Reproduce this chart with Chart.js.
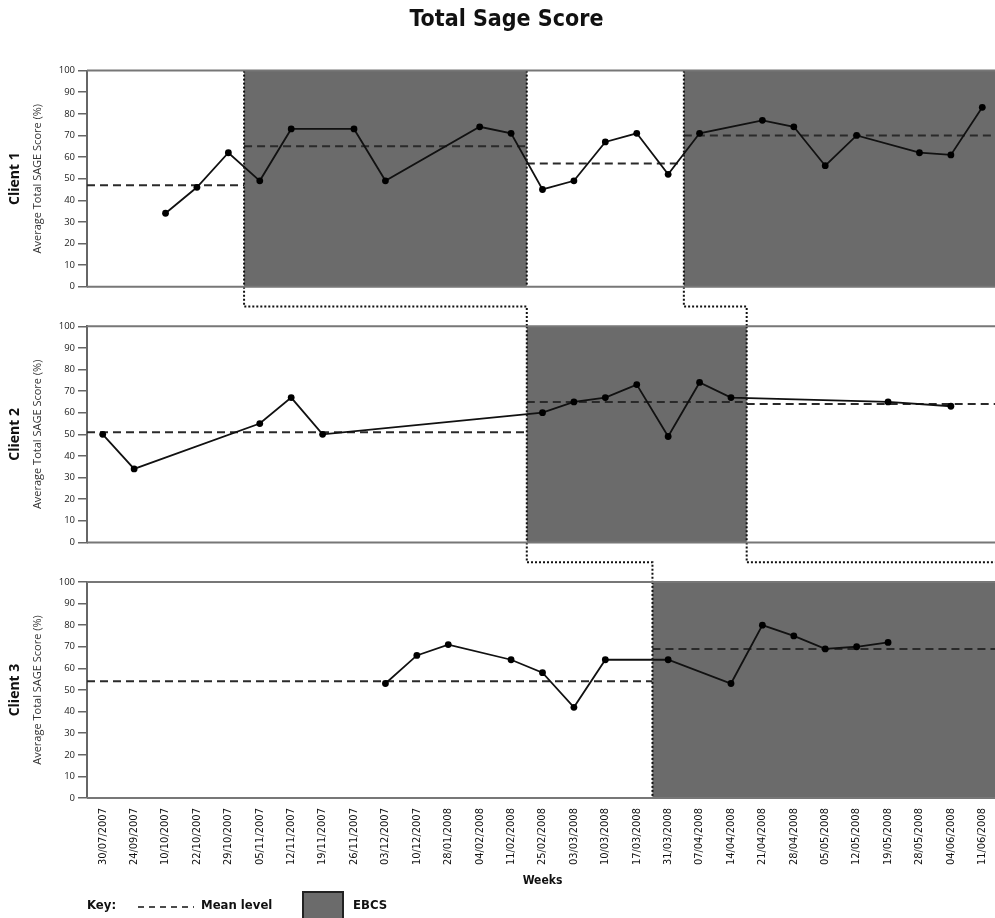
<!DOCTYPE html>
<html>
<head>
<meta charset="utf-8">
<title>Total Sage Score</title>
<script src="https://cdn.jsdelivr.net/npm/chart.js@4/dist/chart.umd.min.js"></script>
<style>
  html, body { margin: 0; padding: 0; background: #fff; overflow: hidden; }
  canvas { display: block; }
</style>
</head>
<body>
<canvas id="chart" width="1002" height="918"></canvas>
<script>
// weeks on the shared x axis
const weeks = [
    '30/07/2007', '24/09/2007', '10/10/2007', '22/10/2007', '29/10/2007',
    '05/11/2007', '12/11/2007', '19/11/2007', '26/11/2007', '03/12/2007',
    '10/12/2007', '28/01/2008', '04/02/2008', '11/02/2008', '25/02/2008',
    '03/03/2008', '10/03/2008', '17/03/2008', '31/03/2008', '07/04/2008',
    '14/04/2008', '21/04/2008', '28/04/2008', '05/05/2008', '12/05/2008',
    '19/05/2008', '28/05/2008', '04/06/2008', '11/06/2008'
];

// average total SAGE score (%), null = no session that week
const client1Scores = [null, null, 34, 46, 62, 49, 73, null, 73, 49, null, null, 74, 71, 45,
    49, 67, 71, 52, 71, null, 77, 74, 56, 70, null, 62, 61, 83];
const client2Scores = [50, 34, null, null, null, 55, 67, 50, null, null, null, null, null, null, 60,
    65, 67, 73, 49, 74, 67, null, null, null, null, 65, null, 63, null];
const client3Scores = [null, null, null, null, null, null, null, null, null, 53, 66, 71, null, 64, 58,
    42, 64, null, 64, null, 53, 80, 75, 69, 70, 72, null, null, null];

// phase changes (between weeks), mean level of each phase, and whether the phase is EBCS
const client1Breaks = [4.5, 13.5, 18.5];
const client1Means = [47, 65, 57, 70];
const client1Ebcs = [false, true, false, true];

const client2Breaks = [13.5, 20.5];
const client2Means = [51, 65, 64];
const client2Ebcs = [false, true, false];

const client3Breaks = [17.5];
const client3Means = [54, 69];
const client3Ebcs = [false, true];

// dotted staircase lines linking the phase changes across clients
const stepsFirst = [4.5, 13.5, 17.5];
const stepsSecond = [18.5, 20.5, 29.5];

const scoreMin = 0;
const scoreMax = 100;
const scoreStep = 10;

const headFont = '"DejaVu Sans Condensed", "DejaVu Sans", sans-serif';
const axisFont = '"Open Sans", sans-serif';
const shade = '#6b6b6b';

const panels = [
    { axis: 'y1', name: 'Client 1', scores: client1Scores, breaks: client1Breaks, means: client1Means, ebcs: client1Ebcs },
    { axis: 'y2', name: 'Client 2', scores: client2Scores, breaks: client2Breaks, means: client2Means, ebcs: client2Ebcs },
    { axis: 'y3', name: 'Client 3', scores: client3Scores, breaks: client3Breaks, means: client3Means, ebcs: client3Ebcs }
];

function scoreAxis() {
    return {
        type: 'linear',
        position: 'left',
        stack: 'clients',
        stackWeight: 216,
        min: scoreMin,
        max: scoreMax,
        ticks: { stepSize: scoreStep, autoSkip: false, font: { family: axisFont, size: 9.5 }, color: '#222', padding: 3 },
        grid: { display: true, drawOnChartArea: false, drawTicks: true, tickLength: 9, color: '#666', lineWidth: 1.5 },
        border: { display: true, color: '#666', width: 2 },
        title: {
            display: true,
            text: 'Average Total SAGE Score (%)',
            font: { family: axisFont, size: 11 },
            color: '#333',
            padding: { top: 20, bottom: 0 }
        },
        afterFit(scale) { scale.width = 76; }
    };
}

function gapAxis() {
    return { type: 'linear', position: 'left', stack: 'clients', stackWeight: 39.5, display: false };
}

const phasePlugin = {
    id: 'phases',
    beforeDatasetsDraw(chart) {
        const { ctx, scales } = chart;
        const x = scales.x;
        ctx.save();
        panels.forEach(p => {
            const y = scales[p.axis];
            const top = y.getPixelForValue(scoreMax);
            const bottom = y.getPixelForValue(scoreMin);
            const edges = [-0.5, ...p.breaks, weeks.length - 0.5];

            p.ebcs.forEach((on, k) => {
                if (!on) return;
                const x0 = x.getPixelForValue(edges[k]);
                const x1 = x.getPixelForValue(edges[k + 1]);
                ctx.fillStyle = shade;
                ctx.fillRect(x0, top, x1 - x0, bottom - top);
            });

            ctx.setLineDash([8, 5]);
            ctx.lineWidth = 2;
            ctx.strokeStyle = '#2a2a2a';
            p.means.forEach((m, k) => {
                const ym = y.getPixelForValue(m);
                ctx.beginPath();
                ctx.moveTo(x.getPixelForValue(edges[k]), ym);
                ctx.lineTo(x.getPixelForValue(edges[k + 1]), ym);
                ctx.stroke();
            });

            ctx.setLineDash([2, 2]);
            ctx.strokeStyle = '#111';
            p.breaks.forEach(b => {
                const xb = x.getPixelForValue(b);
                ctx.beginPath();
                ctx.moveTo(xb, top);
                ctx.lineTo(xb, bottom);
                ctx.stroke();
            });
        });

        ctx.setLineDash([2, 2]);
        ctx.lineWidth = 2;
        ctx.strokeStyle = '#111';
        [stepsFirst, stepsSecond].forEach(steps => {
            for (let i = 0; i < panels.length - 1; i++) {
                const ya = scales[panels[i].axis].getPixelForValue(scoreMin);
                const yb = scales[panels[i + 1].axis].getPixelForValue(scoreMax);
                const yc = (ya + yb) / 2;
                const xa = x.getPixelForValue(steps[i]);
                const xb = x.getPixelForValue(steps[i + 1]);
                ctx.beginPath();
                ctx.moveTo(xa, ya);
                ctx.lineTo(xa, yc);
                ctx.lineTo(xb, yc);
                ctx.lineTo(xb, yb);
                ctx.stroke();
            }
        });
        ctx.restore();
    },
    afterDatasetsDraw(chart) {
        const { ctx, chartArea, scales } = chart;
        ctx.save();
        ctx.strokeStyle = '#777';
        ctx.lineWidth = 2;
        panels.forEach(p => {
            const y = scales[p.axis];
            [scoreMax, scoreMin].forEach(v => {
                const yy = y.getPixelForValue(v);
                ctx.beginPath();
                ctx.moveTo(chartArea.left, yy);
                ctx.lineTo(chartArea.right, yy);
                ctx.stroke();
            });
        });
        ctx.restore();
    },
    afterDraw(chart) {
        const { ctx, chartArea, scales } = chart;
        ctx.save();
        ctx.fillStyle = '#111';
        ctx.textAlign = 'center';
        ctx.textBaseline = 'middle';
        ctx.font = 'bold 14px ' + axisFont;
        panels.forEach(p => {
            const y = scales[p.axis];
            ctx.save();
            ctx.translate(15, (y.top + y.bottom) / 2);
            ctx.rotate(-Math.PI / 2);
            ctx.fillText(p.name, 0, 0);
            ctx.restore();
        });

        // key
        const kx = chartArea.left;
        const ky = 906;
        ctx.textAlign = 'left';
        ctx.font = 'bold 13px ' + headFont;
        ctx.fillText('Key:', kx, ky);
        ctx.setLineDash([6, 5]);
        ctx.lineWidth = 1.5;
        ctx.strokeStyle = '#111';
        ctx.beginPath();
        ctx.moveTo(kx + 51, ky + 1);
        ctx.lineTo(kx + 107, ky + 1);
        ctx.stroke();
        ctx.fillText('Mean level', kx + 114, ky);
        ctx.setLineDash([]);
        ctx.fillStyle = shade;
        ctx.fillRect(kx + 216, ky - 14, 40, 30);
        ctx.lineWidth = 2;
        ctx.strokeStyle = '#222';
        ctx.strokeRect(kx + 216, ky - 14, 40, 30);
        ctx.fillStyle = '#111';
        ctx.fillText('EBCS', kx + 266, ky);
        ctx.restore();
    }
};

const datasets = panels.map(p => ({
    label: p.name,
    data: p.scores,
    yAxisID: p.axis,
    borderColor: '#111',
    borderWidth: 1.8,
    pointRadius: 3.4,
    pointBackgroundColor: '#000',
    pointBorderColor: '#000',
    pointBorderWidth: 0,
    spanGaps: true,
    tension: 0
}));

new Chart(document.getElementById('chart'), {
    type: 'line',
    data: { labels: weeks, datasets: datasets },
    options: {
        responsive: false,
        animation: false,
        devicePixelRatio: 1,
        layout: { padding: { top: 0, left: 11, right: 0, bottom: 28 } },
        plugins: {
            legend: { display: false },
            tooltip: { enabled: false },
            title: {
                display: true,
                text: 'Total Sage Score',
                font: { family: headFont, size: 23, weight: 'bold' },
                color: '#111',
                padding: { top: 6, bottom: 37 }
            }
        },
        scales: {
            x: {
                type: 'category',
                offset: true,
                grid: { display: false },
                border: { display: false },
                ticks: {
                    autoSkip: false,
                    maxRotation: 90,
                    minRotation: 90,
                    padding: 2,
                    font: { family: headFont, size: 11 },
                    color: '#111'
                },
                title: {
                    display: true,
                    text: 'Weeks',
                    font: { family: headFont, size: 12, weight: 'bold' },
                    color: '#111',
                    padding: { top: 6.5, bottom: 2 }
                }
            },
            // left stack is laid out last-first, so client 1 goes at the end
            y3: scoreAxis(),
            gap2: gapAxis(),
            y2: scoreAxis(),
            gap1: gapAxis(),
            y1: scoreAxis()
        }
    },
    plugins: [phasePlugin]
});
</script>
</body>
</html>
